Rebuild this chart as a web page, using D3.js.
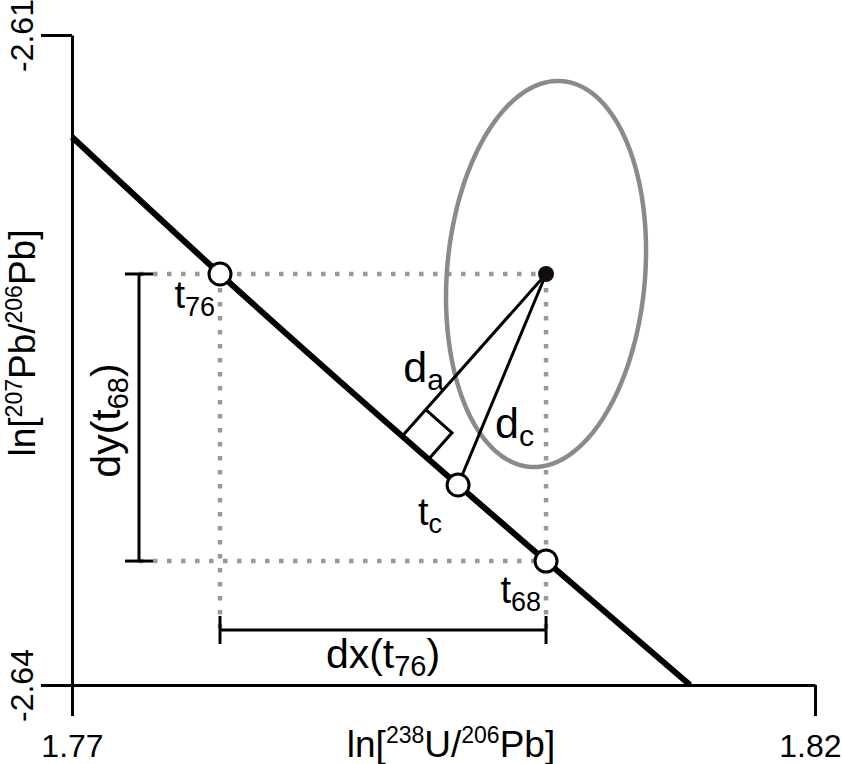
<!DOCTYPE html>
<html>
<head>
<meta charset="utf-8">
<script src="https://cdn.jsdelivr.net/npm/d3@7"></script>
<style>
  html, body { margin: 0; padding: 0; background: #fff; }
  svg { display: block; font-family: "Liberation Sans", Arial, sans-serif; }
</style>
</head>
<body>
<svg id="chart" width="842" height="764"></svg>
<script>
// ---- data ----
const xDomain = [1.77, 1.82];
const yDomain = [-2.64, -2.61];
const xTicks = [1.77, 1.82];
const yTicks = [-2.61, -2.64];
const xTickLabels = ["1.77", "1.82"];
const yTickLabels = ["-2.61", "-2.64"];

// concordia line (ln space) read at a few points
const concordiaX = [1.77, 1.77996, 1.79598, 1.80190, 1.81159];
const concordiaY = [-2.61471, -2.62103, -2.63077, -2.63428, -2.64];

// measured point and its error ellipse
const measured = [1.80190, -2.62103];
const ellipseSd = [0.00673, 0.00891];
const ellipseRho = 0.12;

// ages on the concordia
const t76Point = [1.77996, -2.62103];
const t68Point = [1.80190, -2.63428];
const tcPoint = [1.79598, -2.63077];

// positions of the dx / dy bars
const dxBarY = -2.63746;
const dyBarX = 1.77451;

// ---- drawing ----
const svg = d3.select("#chart");
const x = d3.scaleLinear().domain(xDomain).range([72, 815]);
const y = d3.scaleLinear().domain(yDomain).range([685, 35]);

const DOT_GREY = "#999999";
const dotted = {w: 4.5, dash: "4.5 9.5"};

// dotted guides
const guides = [
  [[dyBarX, t76Point[1]], [measured[0], measured[1]]],
  [[dyBarX, t68Point[1]], [t68Point[0], t68Point[1]]],
  [[t76Point[0], t76Point[1]], [t76Point[0], dxBarY]],
  [[measured[0], measured[1]], [measured[0], dxBarY]]
];
svg.append("g").selectAll("line").data(guides).join("line")
  .attr("x1", d => x(d[0][0])).attr("y1", d => y(d[0][1]))
  .attr("x2", d => x(d[1][0])).attr("y2", d => y(d[1][1]))
  .attr("stroke", DOT_GREY).attr("stroke-width", dotted.w)
  .attr("stroke-dasharray", dotted.dash);

// ellipse
const ellPts = d3.range(0, 361, 2).map(deg => {
  const t = deg * Math.PI / 180;
  return [measured[0] + ellipseSd[0] * Math.cos(t),
          measured[1] + ellipseSd[1] * (ellipseRho * Math.cos(t) + Math.sqrt(1 - ellipseRho * ellipseRho) * Math.sin(t))];
});
svg.append("path")
  .attr("d", d3.line().x(d => x(d[0])).y(d => y(d[1]))(ellPts) + "Z")
  .attr("fill", "none").attr("stroke", "#8a8a8a").attr("stroke-width", 4.5);

// concordia
const concData = concordiaX.map((v, i) => [v, concordiaY[i]]);
svg.append("path")
  .attr("d", d3.line().x(d => x(d[0])).y(d => y(d[1])).curve(d3.curveMonotoneX)(concData))
  .attr("fill", "none").attr("stroke", "#000").attr("stroke-width", 6)
  .attr("stroke-linecap", "butt");

// perpendicular foot (pixel space), projected on the t76 - tc chord
const P = [x(measured[0]), y(measured[1])];
const A = [x(t76Point[0]), y(t76Point[1])];
const B = [x(tcPoint[0]), y(tcPoint[1])];
const L = Math.hypot(B[0] - A[0], B[1] - A[1]);
const u = [(B[0] - A[0]) / L, (B[1] - A[1]) / L];
const proj = (P[0] - A[0]) * u[0] + (P[1] - A[1]) * u[1];
const F = [A[0] + proj * u[0], A[1] + proj * u[1]];
const vl = Math.hypot(P[0] - F[0], P[1] - F[1]);
const v = [(P[0] - F[0]) / vl, (P[1] - F[1]) / vl];

// d_a and d_c lines
svg.append("line").attr("x1", P[0]).attr("y1", P[1]).attr("x2", F[0]).attr("y2", F[1])
  .attr("stroke", "#000").attr("stroke-width", 3);
svg.append("line").attr("x1", P[0]).attr("y1", P[1])
  .attr("x2", x(tcPoint[0])).attr("y2", y(tcPoint[1]))
  .attr("stroke", "#000").attr("stroke-width", 3);

// right-angle marker
const s = 35;
const c1 = [F[0] + s * u[0], F[1] + s * u[1]];
const c2 = [F[0] + s * u[0] + s * v[0], F[1] + s * u[1] + s * v[1]];
const c3 = [F[0] + s * v[0], F[1] + s * v[1]];
svg.append("path").attr("d", d3.line()([c1, c2, c3]))
  .attr("fill", "none").attr("stroke", "#000").attr("stroke-width", 3)
  .attr("stroke-linejoin", "miter");

// measured point
svg.append("circle").attr("cx", P[0]).attr("cy", P[1]).attr("r", 8).attr("fill", "#140c0c");

// age circles
svg.append("g").selectAll("circle").data([t76Point, tcPoint, t68Point]).join("circle")
  .attr("cx", d => x(d[0])).attr("cy", d => y(d[1])).attr("r", 11)
  .attr("fill", "#fff").attr("stroke", "#000").attr("stroke-width", 3);

// dx and dy bars
const bars = svg.append("g").attr("stroke", "#000").attr("stroke-width", 3);
bars.append("line").attr("x1", x(t76Point[0])).attr("x2", x(measured[0]))
  .attr("y1", y(dxBarY)).attr("y2", y(dxBarY));
[t76Point[0], measured[0]].forEach(xv => bars.append("line")
  .attr("x1", x(xv)).attr("x2", x(xv)).attr("y1", y(dxBarY) - 14).attr("y2", y(dxBarY) + 14));
bars.append("line").attr("x1", x(dyBarX)).attr("x2", x(dyBarX))
  .attr("y1", y(t76Point[1])).attr("y2", y(t68Point[1]));
[t76Point[1], t68Point[1]].forEach(yv => bars.append("line")
  .attr("y1", y(yv)).attr("y2", y(yv)).attr("x1", x(dyBarX) - 14).attr("x2", x(dyBarX) + 14));

// label helper: main text + subscript
function subLabel(g, main, sub, size, subSize, subDy) {
  const t = g.append("text").attr("font-size", size).attr("fill", "#000");
  t.append("tspan").text(main);
  t.append("tspan").attr("font-size", subSize).attr("dy", subDy).text(sub);
  return t;
}

const BIG = 38, SUB = 27;
subLabel(svg, "t", "76", BIG, SUB, 8)
  .attr("text-anchor", "end").attr("x", x(t76Point[0]) - 5).attr("y", y(t76Point[1]) + 34);
subLabel(svg, "t", "c", BIG, SUB, 8)
  .attr("text-anchor", "end").attr("x", x(tcPoint[0]) - 16).attr("y", y(tcPoint[1]) + 40);
subLabel(svg, "t", "68", BIG, SUB, 8)
  .attr("text-anchor", "end").attr("x", x(t68Point[0]) - 5).attr("y", y(t68Point[1]) + 42);

subLabel(svg, "d", "a", 43, 30, 8)
  .attr("x", (P[0] + F[0]) / 2 - 71).attr("y", (P[1] + F[1]) / 2 + 27);
subLabel(svg, "d", "c", 43, 30, 8)
  .attr("x", (P[0] + x(tcPoint[0])) / 2 - 7).attr("y", (P[1] + y(tcPoint[1])) / 2 + 58);

// dx(t76)
const dxT = svg.append("text").attr("font-size", 41).attr("text-anchor", "middle")
  .attr("x", (x(t76Point[0]) + x(measured[0])) / 2).attr("y", y(dxBarY) + 38);
dxT.append("tspan").text("dx(t");
dxT.append("tspan").attr("font-size", 29).attr("dy", 8).text("76");
dxT.append("tspan").attr("dy", -8).text(")");

// dy(t68) rotated
const dyCx = x(dyBarX) - 19, dyCy = (y(t76Point[1]) + y(t68Point[1])) / 2 + 3;
const dyT = svg.append("text").attr("font-size", 41).attr("text-anchor", "middle")
  .attr("transform", `translate(${dyCx},${dyCy}) rotate(-90)`);
dyT.append("tspan").text("dy(t");
dyT.append("tspan").attr("font-size", 29).attr("dy", 8).text("68");
dyT.append("tspan").attr("dy", -8).text(")");

// axes
const xAxis = svg.append("g").attr("transform", `translate(0,${y(yDomain[0])})`)
  .call(d3.axisBottom(x).tickValues(xTicks).tickSize(31).tickSizeOuter(0).tickFormat((d, i) => xTickLabels[i]));
const yAxis = svg.append("g").attr("transform", `translate(${x(xDomain[0])},0)`)
  .call(d3.axisLeft(y).tickValues(yTicks).tickSize(31).tickSizeOuter(0).tickFormat((d, i) => yTickLabels[i]));
[xAxis, yAxis].forEach(g => {
  g.selectAll("path.domain, line").attr("stroke", "#000").attr("stroke-width", 3);
  g.selectAll("text").attr("font-family", "Liberation Sans, Arial, sans-serif")
    .attr("font-size", 32).attr("fill", "#000");
});
xAxis.selectAll("text").attr("y", 72).attr("dy", 0)
  .filter((d, i) => i === xTicks.length - 1).attr("text-anchor", "end").attr("x", 26);
yAxis.selectAll("text").attr("x", 0).attr("dy", 0).attr("text-anchor", "middle")
  .attr("transform", "translate(-39,0) rotate(-90)");

// axis titles
const xt = svg.append("text").attr("font-size", 37).attr("text-anchor", "middle")
  .attr("x", 451).attr("y", 757);
xt.append("tspan").text("ln[");
xt.append("tspan").attr("font-size", 23).attr("dy", -14).text("238");
xt.append("tspan").attr("dy", 14).text("U/");
xt.append("tspan").attr("font-size", 23).attr("dy", -14).text("206");
xt.append("tspan").attr("dy", 14).text("Pb]");

const yt = svg.append("text").attr("font-size", 37).attr("text-anchor", "middle")
  .attr("transform", "translate(35,343) rotate(-90)");
yt.append("tspan").text("ln[");
yt.append("tspan").attr("font-size", 23).attr("dy", -13).text("207");
yt.append("tspan").attr("dy", 13).text("Pb/");
yt.append("tspan").attr("font-size", 23).attr("dy", -13).text("206");
yt.append("tspan").attr("dy", 13).text("Pb]");
</script>
</body>
</html>
